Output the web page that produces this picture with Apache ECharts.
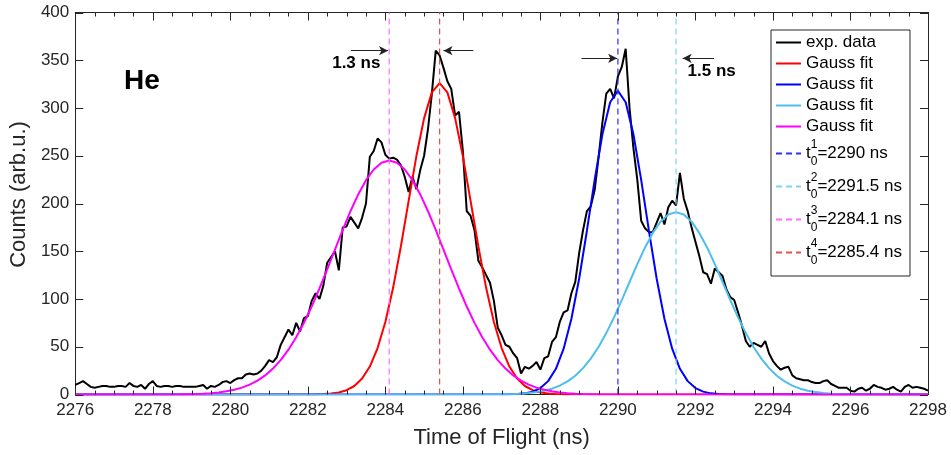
<!DOCTYPE html>
<html><head><meta charset="utf-8">
<script src="https://cdn.jsdelivr.net/npm/echarts@6/dist/echarts.min.js"></script>
<style>html,body{margin:0;padding:0;background:#fff}#c{width:951px;height:455px}</style>
</head><body><div id="c"></div>
<script>
// ---- data ----
const xMin = 2276, xMax = 2298, xInterval = 2, xMinorStep = 0.5;
const yMin = 0, yMax = 400, yInterval = 50;

const expStart = 2276, expStep = 0.1;
const expCounts = [
  10, 12, 14, 11, 8, 7, 8, 9, 9, 8,
  8, 9, 9, 8, 12, 9, 8, 10, 6, 11,
  14, 9, 8, 9, 9, 8, 9, 9, 8, 8,
  8, 8, 9, 10, 6, 9, 8, 10, 13, 14,
  12, 15, 17, 17, 21, 22, 21, 22, 25, 30,
  36, 34, 39, 52, 60, 68, 62, 75, 66, 80,
  82, 98, 106, 100, 114, 138, 144, 150, 130, 175,
  176, 186, 180, 174, 185, 200, 249, 255, 268, 264,
  251, 247, 248, 246, 240, 228, 212, 228, 215, 235,
  250, 278, 315, 360, 355, 342, 328, 320, 292, 296,
  255, 192, 187, 172, 140, 133, 125, 117, 98, 70,
  62, 52, 50, 43, 38, 22, 29, 27, 30, 34,
  26, 38, 40, 55, 60, 76, 86, 88, 106, 118,
  148, 172, 192, 197, 214, 248, 285, 315, 320, 310,
  333, 343, 362, 300, 258, 225, 182, 174, 170, 170,
  180, 190, 178, 196, 203, 198, 232, 205, 192, 175,
  160, 145, 128, 126, 116, 132, 128, 124, 110, 102,
  99, 86, 72, 56, 50, 54, 52, 50, 56, 43,
  35, 30, 26, 28, 29, 20, 17, 16, 15, 15,
  13, 12, 12, 14, 15, 11, 9, 7, 7, 7,
  4, 3, 6, 7, 4, 6, 10, 8, 7, 5,
  6, 8, 5, 3, 8, 10, 7, 8, 7, 6,
  4
];

const fitStep = 0.2;
const redStart = 2282.2;
const redFit = [0.2, 0.4, 1.0, 2.1, 4.5, 8.9, 16.7, 29.3, 48.6, 75.9, 111.7, 155.0, 202.5, 249.4, 289.4, 316.4,
  326, 316.4, 289.4, 249.4, 202.5, 155.0, 111.7, 75.9, 48.6, 29.3, 16.7, 8.9, 4.5, 2.1, 1.0, 0.4, 0.2];
const blueStart = 2287.2;
const blueFit = [0.2, 0.5, 1.2, 3.0, 6.7, 14.0, 26.9, 48.0, 79.3, 121.2, 171.5, 224.7, 272.5, 306.0,
  318, 306.0, 272.5, 224.7, 171.5, 121.2, 79.3, 48.0, 26.9, 14.0, 6.7, 3.0, 1.2, 0.5, 0.2];
const cyanStart = 2286.9;
const cyanFit = [0.2, 0.3, 0.5, 0.9, 1.5, 2.5, 3.9, 6.1, 9.3, 13.7, 19.7, 27.6, 37.6, 49.8, 64.3, 80.8, 98.9,
  117.8, 136.5, 154.0, 169.2, 181.0, 188.5, 191, 188.5, 181.0, 169.2, 154.0, 136.5, 117.8, 98.9, 80.8,
  64.3, 49.8, 37.6, 27.6, 19.7, 13.7, 9.3, 6.1, 3.9, 2.5, 1.5, 0.9, 0.5, 0.3, 0.2];
const magentaStart = 2278.7;
const magentaFit = [0.2, 0.3, 0.5, 0.9, 1.4, 2.2, 3.3, 4.9, 7.2, 10.3, 14.5, 20.0, 27.1, 36.0, 46.9, 59.9,
  75.0, 92.1, 111.0, 131.0, 151.7, 172.3, 191.9, 209.5, 224.4, 235.6, 242.6, 245,
  242.6, 235.6, 224.4, 209.5, 191.9, 172.3, 151.7, 131.0, 111.0, 92.1, 75.0, 59.9, 46.9, 36.0, 27.1,
  20.0, 14.5, 10.3, 7.2, 4.9, 3.3, 2.2, 1.4, 0.9, 0.5, 0.3, 0.2];

const t0Index = ['1', '2', '3', '4'];
const t0Values = [2290, 2291.5, 2284.1, 2285.4];
const fitNames = ['Gauss fit', 'Gauss fit', 'Gauss fit', 'Gauss fit'];

// annotation positions (data coordinates)
const arrows = [
  [[2283.11, 360], [2284.07, 360]],
  [[2286.27, 360], [2285.50, 360]],
  [[2289.06, 352], [2289.98, 352]],
  [[2292.48, 352], [2291.67, 352]]
];
const notes = [
  {text: 'He', at: [2277.72, 328], size: 28},
  {text: '1.3 ns', at: [2283.25, 347], size: 17},
  {text: '1.5 ns', at: [2292.42, 338], size: 17}
];

// ---- build ----
const FONT = '"Liberation Sans", Arial, Helvetica, sans-serif';
const AX = '#262626';

function grid(start, step, vals) {
  const out = [[xMin, 0]];
  vals.forEach((v, i) => out.push([+(start + i * step).toFixed(3), v]));
  out.push([xMax, 0]);
  return out;
}
const expData = expCounts.map((v, i) => [+(expStart + i * expStep).toFixed(3), v]);

const fitColors = ['#ff0000', '#0000ff', '#4dbeee', '#ff00ff'];
const fits = [[redStart, redFit], [blueStart, blueFit], [cyanStart, cyanFit], [magentaStart, magentaFit]];
const t0Colors = ['#2f2fff', '#80d2f4', '#ff6eff', '#e25252'];

const series = [];
series.push({
  name: 'exp', type: 'line', data: expData, symbol: 'none', z: 3,
  lineStyle: {color: '#000', width: 2}, itemStyle: {color: '#000'},
  markLine: {
    silent: true, symbol: ['none', 'arrow'], symbolSize: [7, 9], animation: false,
    label: {show: false},
    lineStyle: {color: '#222', width: 1, type: 'solid'},
    data: arrows.map(a => [{coord: a[0]}, {coord: a[1]}])
  },
  markPoint: {
    silent: true, symbol: 'circle', symbolSize: 1, animation: false,
    itemStyle: {color: 'rgba(0,0,0,0)'},
    data: notes.map(n => ({
      coord: n.at, value: n.text,
      label: {show: true, position: 'inside', formatter: n.text, fontSize: n.size,
        fontWeight: 'bold', color: '#000', fontFamily: FONT}
    }))
  }
});
fits.forEach((f, k) => {
  series.push({
    name: 'fit' + k, type: 'line', data: grid(f[0], fitStep, f[1]), symbol: 'none', z: 4 + k,
    smooth: false,
    lineStyle: {color: fitColors[k], width: 2}, itemStyle: {color: fitColors[k]}
  });
});
t0Values.forEach((t, k) => {
  series.push({
    name: 't' + k, type: 'line', data: [[t, yMin], [t, yMax]], symbol: 'none', z: 10,
    lineStyle: {color: t0Colors[k], width: 1.2, type: [6, 4]}, itemStyle: {color: t0Colors[k]}
  });
});

const legendNames = ['exp', 'fit0', 'fit1', 'fit2', 'fit3', 't0', 't1', 't2', 't3'];
function legendLabel(name) {
  if (name === 'exp') return '{n|exp. data}';
  if (name.startsWith('fit')) return '{n|' + fitNames[+name.slice(3)] + '}';
  const k = +name.slice(1);
  return '{t|t}{sup|' + t0Index[k] + '}{sub|0}{v|=' + t0Values[k] + ' ns}';
}

function line() { return {show: true, onZero: false, lineStyle: {color: AX, width: 1}}; }

const chart = echarts.init(document.getElementById('c'), null, {renderer: 'canvas'});
chart.setOption({
  animation: false,
  textStyle: {fontFamily: FONT},
  grid: {left: 69, right: 23, top: 12.5, bottom: 60.5, containLabel: false},
  xAxis: [{
    type: 'value', min: xMin, max: xMax, interval: xInterval, position: 'bottom',
    axisLine: line(), axisTick: {show: false},
    splitLine: {show: false},
    axisLabel: {fontSize: 17, color: AX, margin: 7, fontFamily: FONT, formatter: v => String(v)},
    name: 'Time of Flight (ns)', nameLocation: 'middle', nameGap: 32,
    nameTextStyle: {fontSize: 22, color: AX, fontFamily: FONT}
  }, {
    type: 'value', min: xMin, max: xMax, interval: xInterval, position: 'top',
    axisLine: line(), axisTick: {show: false},
    splitLine: {show: false}, axisLabel: {show: false}
  }],
  yAxis: [{
    type: 'value', min: yMin, max: yMax, interval: yInterval, position: 'left',
    axisLine: line(), axisTick: {show: false},
    splitLine: {show: false},
    axisLabel: {fontSize: 17, color: AX, margin: 6, fontFamily: FONT},
    name: 'Counts (arb.u.)', nameLocation: 'middle', nameGap: 36,
    nameTextStyle: {fontSize: 22, color: AX, fontFamily: FONT, padding: [0, 0, 0, 18]}
  }, {
    type: 'value', min: yMin, max: yMax, interval: yInterval, position: 'right',
    axisLine: line(), axisTick: {show: false},
    splitLine: {show: false}, axisLabel: {show: false}
  }],
  legend: {
    data: legendNames, orient: 'vertical', left: 771, top: 30,
    padding: [4, 8, 9, 4], itemGap: 4, itemWidth: 25, itemHeight: 14,
    borderColor: AX, borderWidth: 1, backgroundColor: '#fff',
    selectedMode: false,
    itemStyle: {opacity: 0, borderWidth: 0},
    formatter: legendLabel,
    textStyle: {
      fontFamily: FONT, color: '#000', fontSize: 17,
      rich: {
        n: {fontSize: 17, lineHeight: 17, fontFamily: FONT, color: '#000'},
        t: {fontSize: 17, lineHeight: 29, fontFamily: FONT, color: '#000', verticalAlign: 'middle'},
        sup: {fontSize: 12, lineHeight: 29, fontFamily: FONT, color: '#000', verticalAlign: 'top', width: 0},
        sub: {fontSize: 12, lineHeight: 29, fontFamily: FONT, color: '#000', verticalAlign: 'bottom'},
        v: {fontSize: 17, lineHeight: 29, fontFamily: FONT, color: '#000', verticalAlign: 'middle'}
      }
    }
  },
  series: series
});

// MATLAB-style inward ticks on all four sides, positioned through the axes' scales
try {
  const finder = {xAxisIndex: 0, yAxisIndex: 0};
  const els = [];
  const addTick = (x1, y1, x2, y2) => els.push({
    type: 'line', silent: true, z: 100,
    shape: {x1: x1, y1: y1, x2: x2, y2: y2},
    style: {stroke: AX, lineWidth: 1}
  });
  const perMajor = Math.round(xInterval / xMinorStep);
  for (let i = 0; xMin + i * xMinorStep <= xMax + 1e-9; i++) {
    const v = xMin + i * xMinorStep;
    const len = (i % perMajor === 0) ? 8 : 4;
    const pb = chart.convertToPixel(finder, [v, yMin]);
    const pt = chart.convertToPixel(finder, [v, yMax]);
    const x = Math.round(pb[0]) + 0.5;
    addTick(x, pb[1], x, pb[1] - len);
    addTick(x, pt[1], x, pt[1] + len);
  }
  for (let v = yMin; v <= yMax; v += yInterval) {
    const pl = chart.convertToPixel(finder, [xMin, v]);
    const pr = chart.convertToPixel(finder, [xMax, v]);
    const y = Math.round(pl[1]) + 0.5;
    addTick(pl[0], y, pl[0] + 8, y);
    addTick(pr[0], y, pr[0] - 8, y);
  }
  chart.setOption({graphic: {elements: els}});
} catch (e) { /* ticks are decorative */ }
</script>
</body></html>
